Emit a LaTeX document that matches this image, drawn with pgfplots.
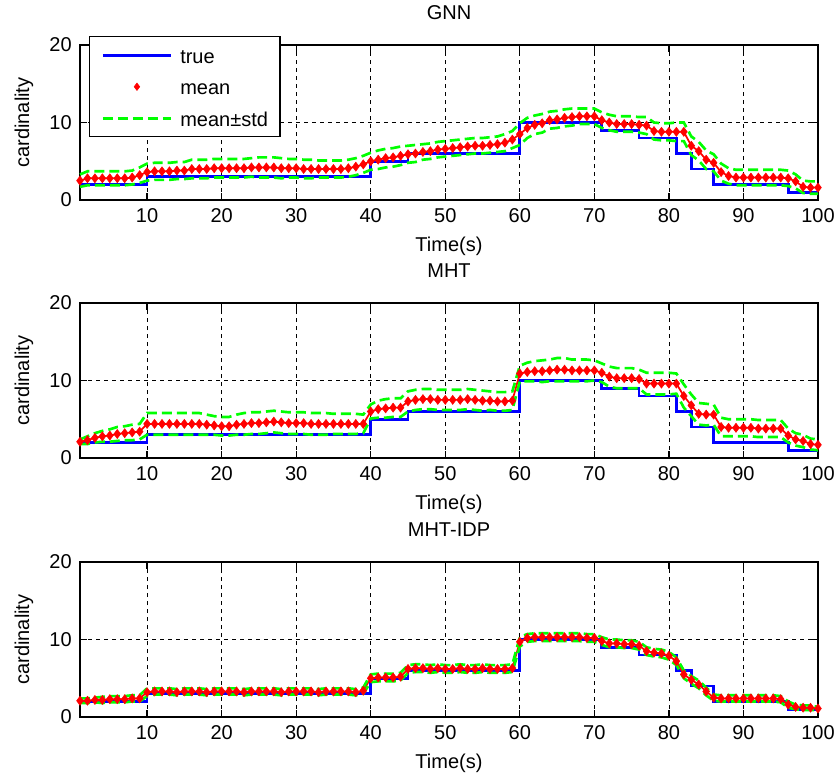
\documentclass[border=0pt]{standalone}
\usepackage{fontspec}
\setmainfont{Liberation Sans}
\usepackage{pgfplots}
\usepackage{pgfplotstable}
\pgfplotsset{compat=1.18}

\definecolor{mblue}{RGB}{0,0,255}
\definecolor{mred}{RGB}{255,0,0}
\definecolor{mgreen}{RGB}{0,255,0}
\newcommand{\fnt}{\fontsize{15}{18}\selectfont}

% GNN: time, mean cardinality, standard deviation
\pgfplotstableread[row sep=\\]{
t m s\\
1 2.5 0.8\\ 2 2.8 0.9\\ 3 2.8 0.9\\ 4 2.8 0.9\\ 5 2.8 0.9\\ 6 2.8 0.9\\ 7 2.8 0.9\\ 8 2.9 0.9\\ 9 3.2 1.0\\ 10 3.6 1.1\\
11 3.7 1.1\\ 12 3.7 1.1\\ 13 3.7 1.1\\ 14 3.8 1.1\\ 15 3.8 1.1\\ 16 4.0 1.2\\ 17 4.0 1.2\\ 18 4.0 1.2\\ 19 4.1 1.2\\ 20 4.1 1.2\\
21 4.1 1.2\\ 22 4.1 1.2\\ 23 4.1 1.2\\ 24 4.2 1.2\\ 25 4.2 1.3\\ 26 4.2 1.3\\ 27 4.2 1.3\\ 28 4.1 1.3\\ 29 4.1 1.2\\ 30 4.1 1.2\\
31 4.0 1.2\\ 32 4.0 1.2\\ 33 4.0 1.1\\ 34 4.0 1.1\\ 35 4.0 1.1\\ 36 4.0 1.1\\ 37 4.1 1.1\\ 38 4.3 1.1\\ 39 4.6 1.1\\ 40 5.0 1.1\\
41 5.2 1.2\\ 42 5.4 1.2\\ 43 5.5 1.2\\ 44 5.7 1.2\\ 45 5.9 1.1\\ 46 6.0 1.1\\ 47 6.2 1.0\\ 48 6.3 1.0\\ 49 6.5 1.0\\ 50 6.6 1.0\\
51 6.7 1.0\\ 52 6.8 1.0\\ 53 6.9 1.0\\ 54 7.0 1.0\\ 55 7.0 1.0\\ 56 7.1 1.0\\ 57 7.2 1.0\\ 58 7.4 1.1\\ 59 7.8 1.1\\ 60 8.5 1.4\\
61 9.3 1.3\\ 62 9.7 1.2\\ 63 9.9 1.2\\ 64 10.3 1.1\\ 65 10.4 1.1\\ 66 10.6 1.1\\ 67 10.7 1.1\\ 68 10.8 1.0\\ 69 10.8 1.0\\ 70 10.8 1.0\\
71 10.3 1.0\\ 72 10.0 1.0\\ 73 9.8 1.0\\ 74 9.8 1.0\\ 75 9.8 1.0\\ 76 9.7 1.0\\ 77 9.6 1.1\\ 78 8.9 1.1\\ 79 8.8 1.1\\ 80 8.8 1.1\\
81 8.8 1.2\\ 82 8.8 1.2\\ 83 7.0 1.2\\ 84 6.3 1.2\\ 85 5.2 1.2\\ 86 4.8 1.1\\ 87 3.6 1.1\\ 88 3.1 1.0\\ 89 2.9 1.0\\ 90 2.9 1.0\\
91 2.9 1.0\\ 92 2.9 1.0\\ 93 2.9 1.0\\ 94 2.9 1.0\\ 95 2.9 1.0\\ 96 2.8 1.0\\ 97 2.4 0.9\\ 98 1.7 0.8\\ 99 1.6 0.8\\ 100 1.6 0.8\\
}\gnn

% MHT
\pgfplotstableread[row sep=\\]{
t m s\\
1 2.1 0.3\\ 2 2.3 0.5\\ 3 2.6 0.6\\ 4 2.8 0.7\\ 5 2.9 0.8\\ 6 3.1 0.9\\ 7 3.2 0.9\\ 8 3.3 1.0\\ 9 3.4 1.0\\ 10 4.4 1.4\\
11 4.4 1.4\\ 12 4.4 1.4\\ 13 4.4 1.4\\ 14 4.4 1.4\\ 15 4.4 1.4\\ 16 4.4 1.4\\ 17 4.4 1.4\\ 18 4.3 1.3\\ 19 4.2 1.2\\ 20 4.1 1.2\\
21 4.1 1.2\\ 22 4.3 1.3\\ 23 4.4 1.4\\ 24 4.5 1.4\\ 25 4.5 1.4\\ 26 4.6 1.4\\ 27 4.7 1.4\\ 28 4.6 1.4\\ 29 4.5 1.4\\ 30 4.5 1.4\\
31 4.5 1.4\\ 32 4.4 1.4\\ 33 4.4 1.4\\ 34 4.4 1.4\\ 35 4.4 1.3\\ 36 4.4 1.3\\ 37 4.4 1.3\\ 38 4.4 1.3\\ 39 4.4 1.2\\ 40 6.0 0.9\\
41 6.3 1.1\\ 42 6.4 1.2\\ 43 6.5 1.2\\ 44 6.5 1.2\\ 45 7.3 1.3\\ 46 7.5 1.3\\ 47 7.6 1.3\\ 48 7.6 1.3\\ 49 7.5 1.3\\ 50 7.5 1.3\\
51 7.5 1.3\\ 52 7.5 1.3\\ 53 7.6 1.3\\ 54 7.5 1.3\\ 55 7.4 1.3\\ 56 7.4 1.2\\ 57 7.3 1.2\\ 58 7.3 1.2\\ 59 7.4 1.2\\ 60 10.9 1.0\\
61 11.1 1.2\\ 62 11.2 1.3\\ 63 11.2 1.4\\ 64 11.3 1.4\\ 65 11.4 1.5\\ 66 11.4 1.5\\ 67 11.3 1.4\\ 68 11.3 1.4\\ 69 11.3 1.4\\ 70 11.3 1.3\\
71 11.0 1.2\\ 72 10.5 1.3\\ 73 10.3 1.3\\ 74 10.3 1.3\\ 75 10.3 1.3\\ 76 10.2 1.2\\ 77 9.6 1.4\\ 78 9.6 1.4\\ 79 9.6 1.4\\ 80 9.6 1.4\\
81 9.6 1.3\\ 82 8.0 1.5\\ 83 6.8 1.4\\ 84 5.7 1.4\\ 85 5.6 1.4\\ 86 5.6 1.3\\ 87 4.0 1.2\\ 88 3.9 1.1\\ 89 3.9 1.1\\ 90 3.9 1.1\\
91 3.9 1.1\\ 92 3.8 1.1\\ 93 3.8 1.1\\ 94 3.8 1.1\\ 95 3.8 1.1\\ 96 2.9 0.9\\ 97 2.4 0.8\\ 98 2.2 0.8\\ 99 1.8 0.7\\ 100 1.7 0.7\\
}\mht

% MHT-IDP
\pgfplotstableread[row sep=\\]{
t m s\\
1 2.1 0.3\\ 2 2.1 0.3\\ 3 2.2 0.3\\ 4 2.2 0.4\\ 5 2.3 0.4\\ 6 2.3 0.4\\ 7 2.3 0.4\\ 8 2.4 0.4\\ 9 2.4 0.4\\ 10 3.2 0.5\\
11 3.3 0.4\\ 12 3.3 0.4\\ 13 3.3 0.4\\ 14 3.2 0.4\\ 15 3.3 0.4\\ 16 3.3 0.4\\ 17 3.3 0.4\\ 18 3.2 0.4\\ 19 3.3 0.4\\ 20 3.3 0.4\\
21 3.3 0.4\\ 22 3.3 0.4\\ 23 3.2 0.4\\ 24 3.3 0.4\\ 25 3.3 0.4\\ 26 3.3 0.4\\ 27 3.3 0.4\\ 28 3.2 0.4\\ 29 3.3 0.4\\ 30 3.3 0.4\\
31 3.3 0.4\\ 32 3.3 0.4\\ 33 3.2 0.4\\ 34 3.3 0.4\\ 35 3.3 0.4\\ 36 3.3 0.4\\ 37 3.3 0.4\\ 38 3.2 0.4\\ 39 3.4 0.4\\ 40 5.0 0.5\\
41 5.1 0.5\\ 42 5.1 0.5\\ 43 5.1 0.5\\ 44 5.2 0.5\\ 45 6.2 0.5\\ 46 6.3 0.5\\ 47 6.3 0.5\\ 48 6.2 0.5\\ 49 6.3 0.5\\ 50 6.2 0.5\\
51 6.2 0.5\\ 52 6.3 0.5\\ 53 6.2 0.5\\ 54 6.2 0.5\\ 55 6.3 0.5\\ 56 6.2 0.5\\ 57 6.2 0.5\\ 58 6.2 0.5\\ 59 6.3 0.5\\ 60 9.7 0.6\\
61 10.2 0.5\\ 62 10.3 0.5\\ 63 10.3 0.5\\ 64 10.3 0.5\\ 65 10.3 0.5\\ 66 10.3 0.5\\ 67 10.3 0.5\\ 68 10.3 0.5\\ 69 10.2 0.5\\ 70 10.2 0.5\\
71 9.8 0.5\\ 72 9.5 0.5\\ 73 9.5 0.5\\ 74 9.4 0.5\\ 75 9.4 0.5\\ 76 9.2 0.5\\ 77 8.5 0.5\\ 78 8.3 0.5\\ 79 8.2 0.5\\ 80 7.9 0.5\\
81 7.2 0.5\\ 82 5.5 0.5\\ 83 4.8 0.5\\ 84 4.2 0.5\\ 85 3.3 0.5\\ 86 2.5 0.4\\ 87 2.4 0.4\\ 88 2.4 0.4\\ 89 2.4 0.4\\ 90 2.4 0.4\\
91 2.4 0.4\\ 92 2.4 0.4\\ 93 2.4 0.4\\ 94 2.4 0.4\\ 95 2.3 0.4\\ 96 1.6 0.4\\ 97 1.3 0.3\\ 98 1.2 0.3\\ 99 1.2 0.3\\ 100 1.1 0.2\\
}\idp

\pgfplotsset{
  card/.style={
    scale only axis, width=553.5pt, height=116.25pt,
    xmin=1, xmax=100, ymin=0, ymax=20,
    xtick={10,20,...,100}, ytick={0,10,20},
    tick align=inside, major tick length=5pt,
    grid=major,
    major grid style={black, line width=0.6pt, dash pattern=on 3pt off 3pt},
    axis line style={black, line width=0.9pt},
    every tick/.style={black, line width=0.9pt},
    /pgf/number format/assume math mode=true,
    ticklabel style={font=\fnt},
    xticklabel style={anchor=base, yshift=-16.5pt},
    yticklabel style={anchor=east, inner sep=0pt, xshift=-6pt},
    xlabel={Time(s)}, ylabel={cardinality},
    label style={font=\fnt},
    xlabel style={at={(axis description cs:0.5,-0.33)}, anchor=base},
    ylabel style={at={(axis description cs:-0.069,0.5)}, anchor=base},
    title style={font=\fnt, at={(axis description cs:0.5,1.114)}, anchor=base},
    clip=false,
  },
  truestep/.style={const plot, mblue, line width=2pt},
  meanmk/.style={mred, line width=1.3pt, mark=diamond*, mark size=3.4pt,
    mark options={fill=mred, draw=mred, solid, line width=0.4pt}},
  stdln/.style={mgreen, line width=2pt, dash pattern=on 7.5pt off 3.75pt},
  lineleg/.style={legend image code/.code={\draw[##1] (0pt,0pt) -- (51pt,0pt);}},
  markleg/.style={legend image code/.code={\draw[##1, mark size=2.8pt] plot coordinates {(25.5pt,0pt)};}},
}

\begin{document}
\begin{tikzpicture}
\useasboundingbox (0,0) rectangle (628.5pt,-585.75pt);

\begin{axis}[card, at={(60pt,-150pt)}, anchor=south west, title={GNN},
  legend cell align=left,
  legend style={at={(axis description cs:0.0122,1.058)}, anchor=north west,
    draw=black, line width=0.9pt, fill=white, font=\fnt,
    inner xsep=9pt, inner ysep=8pt, row sep=11.6pt, column sep=6pt,
    nodes={inner sep=0pt, text height=12pt, text depth=0pt}}]
\addplot[truestep, lineleg]
  coordinates {(1,2) (10,3) (40,5) (45,6) (60,10) (71,9) (76,8) (81,6) (83,4) (86,2) (96,1) (100,1)};
\addlegendentry{true}
\addplot[meanmk, markleg] table[x=t, y=m] {\gnn};
\addlegendentry{mean}
\addplot[stdln, lineleg] table[x=t, y expr=\thisrow{m}+\thisrow{s}] {\gnn};
\addlegendentry{mean±std}
\addplot[stdln, forget plot] table[x=t, y expr=\thisrow{m}-\thisrow{s}] {\gnn};
\end{axis}

\begin{axis}[card, at={(60pt,-343.5pt)}, anchor=south west, title={MHT}]
\addplot[truestep]
  coordinates {(1,2) (10,3) (40,5) (45,6) (60,10) (71,9) (76,8) (81,6) (83,4) (86,2) (96,1) (100,1)};
\addplot[meanmk] table[x=t, y=m] {\mht};
\addplot[stdln] table[x=t, y expr=\thisrow{m}+\thisrow{s}] {\mht};
\addplot[stdln] table[x=t, y expr=\thisrow{m}-\thisrow{s}] {\mht};
\end{axis}

\begin{axis}[card, at={(60pt,-537.75pt)}, anchor=south west, title={MHT-IDP}]
\addplot[truestep]
  coordinates {(1,2) (10,3) (40,5) (45,6) (60,10) (71,9) (76,8) (81,6) (83,4) (86,2) (96,1) (100,1)};
\addplot[meanmk] table[x=t, y=m] {\idp};
\addplot[stdln] table[x=t, y expr=\thisrow{m}+\thisrow{s}] {\idp};
\addplot[stdln] table[x=t, y expr=\thisrow{m}-\thisrow{s}] {\idp};
\end{axis}
\end{tikzpicture}
\end{document}
